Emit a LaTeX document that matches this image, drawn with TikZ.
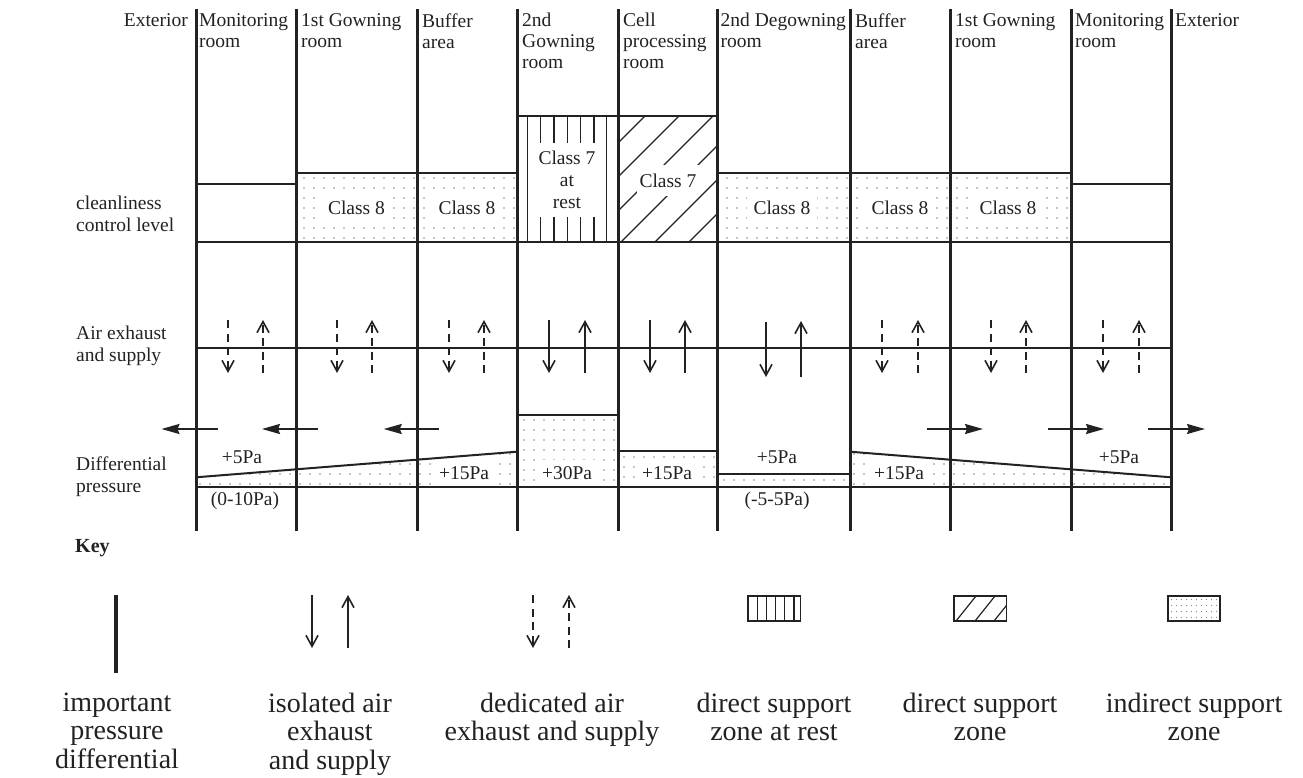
\documentclass[tikz,border=0pt]{standalone}
\usepackage{fontspec}
\setmainfont{Liberation Serif}
\usetikzlibrary{arrows.meta}
\definecolor{ink}{HTML}{222222}
\definecolor{dotc}{HTML}{8A8A8A}
\newcommand{\zonedots}[5]{%
  \begin{scope}
    \clip #5;
    \foreach \i in {0,...,#3}{\foreach \j in {0,...,#4}{%
      \fill[dotc] ({#1+10*\i},{#2+10*\j}) circle[radius=0.8pt];}}
  \end{scope}}
\begin{document}
\begin{tikzpicture}[x=1pt,y=-1pt,
  room/.style={line width=3pt, draw=ink},
  hl/.style={line width=2pt, draw=ink},
  hatch/.style={line width=1.3pt, draw=ink},
  air/.style={line width=1.6pt, draw=ink, -{Straight Barb[length=11pt,width=12pt]}},
  dair/.style={air, dash pattern=on 8pt off 5.5pt},
  flow/.style={line width=2pt, draw=ink, -{Stealth[length=18pt,width=10pt,inset=2pt]}},
  hdr/.style={anchor=north west, inner sep=0pt, align=left, font=\fontsize{19.5}{21}\selectfont, text=ink},
  rowlab/.style={anchor=north west, inner sep=0pt, align=left, font=\fontsize{19.5}{22}\selectfont, text=ink},
  lab/.style={font=\fontsize{19.5}{22}\selectfont, text=ink, inner sep=0pt},
  wlab/.style={lab, fill=white, inner xsep=7pt, inner ysep=6pt},
  keytxt/.style={anchor=north, inner sep=0pt, align=center, font=\fontsize{28}{28.5}\selectfont, text=ink},
  keybox/.style={line width=1.6pt, draw=ink}
]
\useasboundingbox (0,0) rectangle (1303,778);

% ---------- dotted zones (indirect support) ----------
\zonedots{304}{178}{22}{6}{(296,173) rectangle (517,242)}
\zonedots{727}{178}{34}{6}{(717,173) rectangle (1071,242)}
\zonedots{524}{420}{9}{6}{(517,415) rectangle (618,487)}
\zonedots{624}{457}{9}{2}{(618,451) rectangle (717,487)}
\zonedots{200}{454}{32}{3}{(196,477.3) -- (517,451.7) -- (517,487) -- (196,487) -- cycle}
\zonedots{724}{480}{13}{0}{(717,474) rectangle (850,487)}
\zonedots{854}{454}{32}{3}{(850,451.7) -- (1171,477.3) -- (1171,487) -- (850,487) -- cycle}

% ---------- hatches ----------
\foreach \x in {527.7,540.7,554,567.3,580.7,594,606.7}
  \draw[hatch] (\x,116) -- (\x,242);
\begin{scope}
  \clip (618,116) rectangle (717,242);
  \foreach \c in {761,795,829,863,897,931}
    \draw[hatch] ({\c-100},100) -- ({\c-260},260);
\end{scope}

% ---------- text in zones ----------
\node[wlab] (c8a) at (356.5,208.3) {Class 8};
\node[wlab] (c8b) at (467,208.3) {Class 8};
\node[wlab] (c8c) at (782,208.3) {Class 8};
\node[wlab] (c8d) at (900,208.3) {Class 8};
\node[wlab] (c8e) at (1008,208.3) {Class 8};
\node[lab, fill=white, align=center, minimum width=66pt, minimum height=73pt] (c7r) at (567,180) {Class 7\\at\\rest};
\node[lab, fill=white, minimum width=62pt, minimum height=31pt] (c7) at (668,181) {Class 7};

\node[lab] (pa) at (242,457.5) {+5Pa};
\node[lab] (pb) at (245,500.5) {(0-10Pa)};
\node[wlab] (pc) at (464,472.7) {+15Pa};
\node[wlab] (pd) at (567,472.7) {+30Pa};
\node[wlab] (pe) at (667,472.7) {+15Pa};
\node[lab] (pf) at (777,457.5) {+5Pa};
\node[lab] (pg) at (777,500.5) {(-5-5Pa)};
\node[wlab] (ph) at (899,472.7) {+15Pa};
\node[lab] (pi) at (1119,457.5) {+5Pa};

% ---------- structure lines ----------
\draw[hl] (517,116) -- (717,116);
\draw[hl] (296,173) -- (517,173);
\draw[hl] (717,173) -- (1071,173);
\draw[hl] (196,184) -- (296,184);
\draw[hl] (1071,184) -- (1171,184);
\draw[hl] (196,242) -- (1171,242);
\draw[hl] (196,348) -- (1171,348);
\draw[hl] (517,415) -- (618,415);
\draw[hl] (618,451) -- (717,451);
\draw[hl] (196,477.3) -- (517,451.7);
\draw[hl] (717,474) -- (850,474);
\draw[hl] (850,451.7) -- (1171,477.3);
\draw[hl] (196,487) -- (1171,487);
\foreach \x in {196,296,417,517,618,717,850,950,1071,1171}
  \draw[room] (\x,9) -- (\x,531);

% ---------- headers ----------
\node[hdr, anchor=north east] (hExtL) at (188,13.2) {Exterior};
\node[hdr] (hMonL) at (199,13.2) {Monitoring\\room};
\node[hdr] (hGowL) at (301,13.2) {1st Gowning\\room};
\node[hdr] (hBufL) at (422,13.2) {Buffer\\area};
\node[hdr] (hGow2) at (522,13.2) {2nd\\Gowning\\room};
\node[hdr] (hCell) at (623,13.2) {Cell\\processing\\room};
\node[hdr] (hDeg) at (720.5,13.2) {2nd Degowning\\room};
\node[hdr] (hBufR) at (855,13.2) {Buffer\\area};
\node[hdr] (hGowR) at (955,13.2) {1st Gowning\\room};
\node[hdr] (hMonR) at (1075,13.2) {Monitoring\\room};
\node[hdr] (hExtR) at (1175,13.2) {Exterior};

% ---------- row labels ----------
\node[rowlab] (lClean) at (76,195.7) {cleanliness\\control level};
\node[rowlab] (lAir) at (76,325.7) {Air exhaust\\and supply};
\node[rowlab] (lDiff) at (76,456.7) {Differential\\pressure};

% ---------- air arrows ----------
\foreach \xd/\xu in {228/263, 337/372, 449/484, 882/918, 991/1026, 1103/1139}{
  \draw[dair] (\xd,320) -- (\xd,373);
  \draw[dair] (\xu,373) -- (\xu,320);
}
\foreach \xd/\xu in {549/585, 650/685}{
  \draw[air] (\xd,320) -- (\xd,373);
  \draw[air] (\xu,373) -- (\xu,320);
}
\draw[air] (766,322) -- (766,377);
\draw[air] (801,377) -- (801,321);

% ---------- pressure flow arrows ----------
\draw[flow] (218,429) -- (161.5,429);
\draw[flow] (317.5,429) -- (262,429);
\draw[flow] (439,429) -- (383.7,429);
\draw[flow] (927,429) -- (983,429);
\draw[flow] (1048,429) -- (1104,429);
\draw[flow] (1148,429) -- (1205,429);

% ---------- key ----------
\node[font=\bfseries\fontsize{20}{24}\selectfont, anchor=west, inner sep=0pt, text=ink] (key) at (75,548) {Key};
\draw[line width=4.5pt, ink] (116,595) -- (116,673);
\draw[air] (312,595) -- (312,648);
\draw[air] (348,648) -- (348,595);
\draw[dair] (533,595) -- (533,648);
\draw[dair] (569,648) -- (569,595);

\foreach \x in {757.5,766.6,775.4,784.5,794}
  \draw[line width=1.2pt, ink] (\x,596) -- (\x,621);
\draw[keybox] (748,596) rectangle (800.5,621);

\begin{scope}
  \clip (954,596) rectangle (1006.6,621);
  \foreach \s in {956,975,994}
    \draw[line width=1.2pt, ink] (\s,621) -- ({\s+20},596);
\end{scope}
\draw[keybox] (954,596) rectangle (1006.6,621);

\foreach \i in {0,...,9}{\foreach \j in {0,...,3}{%
  \fill[dotc] ({1171.5+5*\i},{599.5+6*\j}) circle[radius=0.6pt];}}
\draw[keybox] (1168,596) rectangle (1220,621);

\node[keytxt] (k1) at (117,692.6) {important\\pressure\\differential};
\node[keytxt] (k2) at (330,692.6) {isolated air\\exhaust\\and supply};
\node[keytxt] (k3) at (552,692.6) {dedicated air\\exhaust and supply};
\node[keytxt] (k4) at (774,692.6) {direct support\\zone at rest};
\node[keytxt] (k5) at (980,692.6) {direct support\\zone};
\node[keytxt] (k6) at (1194,692.6) {indirect support\\zone};
\end{tikzpicture}
\end{document}
